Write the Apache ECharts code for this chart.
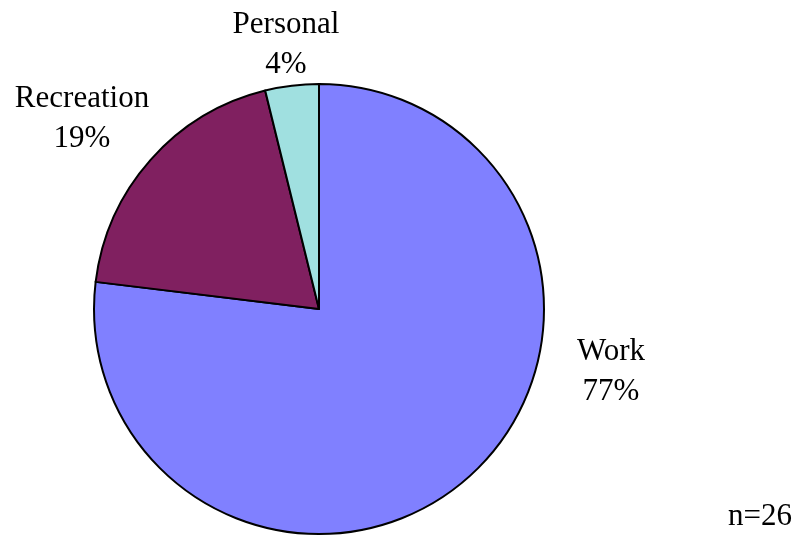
<!DOCTYPE html>
<html>
<head>
<meta charset="utf-8">
<style>
  html, body { margin: 0; padding: 0; background: #ffffff; }
  #chart { width: 801px; height: 535px; }
</style>
<script src="https://cdn.jsdelivr.net/npm/echarts@6/dist/echarts.min.js"></script>
</head>
<body>
<div id="chart"></div>
<script>
// Trip purposes (counts of respondents)
var categories = ['Work', 'Recreation', 'Personal'];
var counts = [20, 5, 1];
var sliceColors = ['#8080FF', '#802060', '#A0E0E0'];
var sampleNote = 'n=26';

// Where each slice label sits (centre of the two-line block)
var labelSpots = [
  { x: 611, y: 372 },
  { x: 82, y: 119 },
  { x: 286, y: 45 }
];

var FONT = '"Liberation Serif", "Times New Roman", serif';

var chart = echarts.init(document.getElementById('chart'), null, { renderer: 'canvas' });

chart.setOption({
  backgroundColor: '#ffffff',
  animation: false,
  series: [{
    type: 'pie',
    center: [319, 309],
    radius: [0, 225],
    startAngle: 90,
    clockwise: true,
    percentPrecision: 0,
    avoidLabelOverlap: false,
    itemStyle: { borderColor: '#000000', borderWidth: 2 },
    label: {
      show: true,
      position: 'outside',
      formatter: '{b}\n{d}%',
      color: '#000000',
      fontFamily: FONT,
      fontSize: 31,
      lineHeight: 40,
      align: 'center'
    },
    labelLine: { show: false },
    labelLayout: function (p) {
      var s = labelSpots[p.dataIndex];
      return { x: s.x, y: s.y, align: 'center', verticalAlign: 'middle', hideOverlap: false };
    },
    emphasis: { disabled: true },
    data: categories.map(function (c, i) {
      return { name: c, value: counts[i], itemStyle: { color: sliceColors[i] } };
    })
  }],
  graphic: [{
    type: 'text',
    left: 728,
    top: 501,
    style: {
      text: sampleNote,
      fill: '#000000',
      font: '31px ' + FONT
    }
  }]
});
</script>
</body>
</html>
